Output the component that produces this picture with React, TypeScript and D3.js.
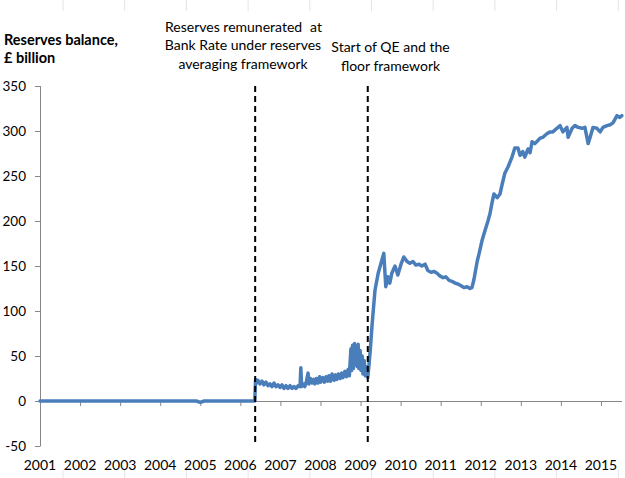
import React from "react";
import * as d3 from "d3";

// Reserves balance readings: decimal year and £ billion
const years: number[] = [
  2001.0, 2002.0, 2003.0, 2004.0, 2004.9, 2005.0, 2005.1, 2006.0, 2006.36,
  2006.38, 2006.41, 2006.44, 2006.49, 2006.54, 2006.59, 2006.64, 2006.69, 2006.74,
  2006.79, 2006.84, 2006.89, 2006.94, 2006.99, 2007.04, 2007.09, 2007.14, 2007.19,
  2007.24, 2007.29, 2007.34, 2007.39, 2007.44, 2007.49, 2007.51, 2007.53, 2007.57,
  2007.61, 2007.65, 2007.69, 2007.71, 2007.75, 2007.79, 2007.83, 2007.86, 2007.9,
  2007.94, 2007.98, 2008.01, 2008.06, 2008.1, 2008.14, 2008.18, 2008.21, 2008.25,
  2008.29, 2008.34, 2008.38, 2008.41, 2008.45, 2008.49, 2008.53, 2008.56, 2008.61,
  2008.65, 2008.69, 2008.72, 2008.76, 2008.78, 2008.8, 2008.82, 2008.85, 2008.87,
  2008.9, 2008.92, 2008.94, 2008.96, 2008.99, 2009.01, 2009.04, 2009.06, 2009.09,
  2009.12, 2009.15, 2009.18, 2009.21, 2009.24,
  2009.29, 2009.36, 2009.44, 2009.51, 2009.58, 2009.63, 2009.68, 2009.73, 2009.78,
  2009.86, 2009.93, 2010.01, 2010.08, 2010.16, 2010.23, 2010.31, 2010.38, 2010.46,
  2010.53, 2010.61, 2010.68, 2010.76, 2010.83, 2010.91, 2010.98, 2011.06, 2011.13,
  2011.21, 2011.28, 2011.36, 2011.43, 2011.51, 2011.58, 2011.66, 2011.73, 2011.78,
  2011.83, 2011.91, 2011.96, 2012.03, 2012.11, 2012.18, 2012.23, 2012.28, 2012.33,
  2012.41, 2012.48, 2012.53, 2012.6, 2012.68, 2012.78, 2012.85, 2012.93, 2012.98,
  2013.05, 2013.1, 2013.18, 2013.23, 2013.28, 2013.35, 2013.48, 2013.55, 2013.65,
  2013.73, 2013.8, 2013.9, 2013.98, 2014.05, 2014.15, 2014.18, 2014.28, 2014.35,
  2014.43, 2014.53, 2014.6, 2014.68, 2014.73, 2014.8, 2014.9, 2014.98, 2015.05,
  2015.15, 2015.23, 2015.3, 2015.4, 2015.47, 2015.52,
];

const reserves: number[] = [
  0, 0, 0, 0, 0, -1.5, 0, 0, 0,
  24, 20, 23, 19, 22, 18, 21, 17, 19,
  16, 20, 16, 18, 15, 18, 14, 17, 14,
  17, 14, 16, 14, 17, 16, 37, 16, 19,
  16, 22, 31, 19, 25, 20, 24, 19, 25,
  20, 27, 21, 26, 21, 27, 22, 28, 22,
  30, 23, 29, 24, 30, 25, 31, 26, 33,
  27, 35, 28, 58, 34, 62, 36, 64, 40,
  60, 38, 63, 36, 56, 34, 50, 30, 45,
  28, 38, 26, 40, 55,
  86, 123, 142, 153, 164, 127, 138, 131, 142,
  150, 140, 152, 160, 155, 153, 155, 151, 152,
  150, 152, 145, 143, 144, 142, 139, 137, 138,
  134, 133, 131, 130, 128, 126, 127, 125, 126,
  135, 155, 164, 178, 190, 200, 208, 220, 230,
  226, 230, 240, 253, 260, 271, 281, 281, 273,
  277, 271, 280, 276, 288, 286, 292, 293, 297,
  299, 299, 303, 306, 299, 304, 293, 303, 306,
  304, 303, 304, 286, 293, 304, 303, 299, 304,
  306, 307, 309, 317, 315, 317,
];

const yTicks: number[] = [-50, 0, 50, 100, 150, 200, 250, 300, 350];
const yearTicks: number[] = d3.range(2001, 2016);

// Policy change dates (decimal years)
const eventYears: number[] = [2006.37, 2009.18];
const eventLabels: string[][] = [
  ["Bank Rate under reserves", "averaging framework"],
  ["Start of QE and the", "floor framework"],
];

const W = 625;
const H = 478;
const FONT = "Lato, 'Noto Sans', sans-serif";

export default function App() {
  const x = d3.scaleLinear().domain([2001, 2015.525]).range([40, 622]);
  const y = d3.scaleLinear().domain([-50, 350]).range([446, 86]);

  const points = years.map((yr, i) => [yr, reserves[i]] as [number, number]);
  const line = d3
    .line<[number, number]>()
    .x((d) => x(d[0]))
    .y((d) => y(d[1]));

  const y0 = y(0);
  const cellLines = d3.range(0, 10).map((i) => 63 + i * 61.7);

  const labelX = [243, 390.5];
  const labelTop = [50, 52];

  return (
    <svg
      width={W}
      height={H}
      style={{ position: "absolute", left: 0, top: 0, background: "#fff" }}
      fontFamily={FONT}
    >
      {/* faint sheet cell borders at the edges */}
      {cellLines.map((cx) => (
        <g key={cx} stroke="#e4e4e4" strokeWidth={1}>
          <line x1={cx} x2={cx} y1={0} y2={11} />
          <line x1={cx} x2={cx} y1={470} y2={478} />
        </g>
      ))}

      {/* y axis */}
      <line x1={40.5} x2={40.5} y1={y(350)} y2={y(-50)} stroke="#868686" />
      {yTicks.map((t) => (
        <g key={t}>
          <line x1={35} x2={40.5} y1={y(t) + 0.5} y2={y(t) + 0.5} stroke="#868686" />
          <text x={26} y={y(t)} dy="0.35em" textAnchor="end" fontSize={13.5} fill="#000">
            {t}
          </text>
        </g>
      ))}

      {/* x axis at zero */}
      <line x1={40} x2={622} y1={y0 + 0.5} y2={y0 + 0.5} stroke="#868686" />
      {yearTicks.map((t) => (
        <g key={t}>
          <line x1={x(t) + 0.5} x2={x(t) + 0.5} y1={y0} y2={y0 + 5} stroke="#868686" />
          <text x={x(t)} y={470} textAnchor="middle" fontSize={14} fill="#000">
            {t}
          </text>
        </g>
      ))}

      {/* series */}
      <path
        d={line(points) ?? ""}
        fill="none"
        stroke="#4a7ebb"
        strokeWidth={3.5}
        strokeLinejoin="round"
        strokeLinecap="round"
      />

      {/* event markers */}
      {eventYears.map((ev, i) => (
        <g key={ev}>
          <line
            x1={x(ev)}
            x2={x(ev)}
            y1={y(350)}
            y2={y(-50)}
            stroke="#000"
            strokeWidth={2}
            strokeDasharray="6,4"
          />
          {eventLabels[i].map((s, j) => (
            <text
              key={j}
              x={labelX[i]}
              y={labelTop[i] + j * 18.5}
              textAnchor="middle"
              fontSize={14}
              fill="#000"
            >
              {s}
            </text>
          ))}
        </g>
      ))}
      {/* first line of the 2006 note, with its wide gap before "at" */}
      <text x={165} y={31.5} fontSize={14} fill="#000">
        Reserves remunerated
      </text>
      <text x={322} y={31.5} textAnchor="end" fontSize={14} fill="#000">
        at
      </text>

      {/* axis title */}
      <text x={4} y={45} fontSize={14.5} fontWeight="bold" fill="#000">
        Reserves balance,
      </text>
      <text x={4} y={63} fontSize={14.5} fontWeight="bold" fill="#000">
        £ billion
      </text>
    </svg>
  );
}
